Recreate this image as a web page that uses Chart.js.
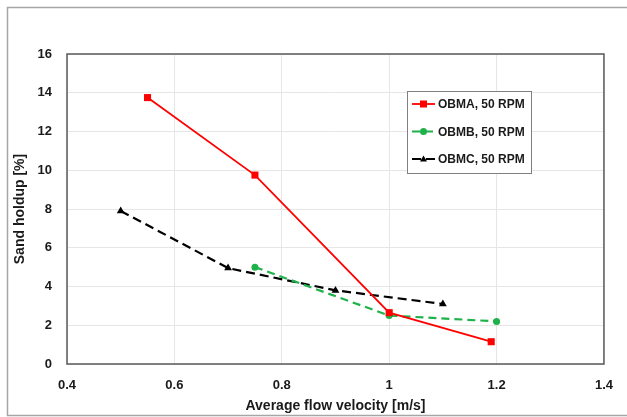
<!DOCTYPE html>
<html>
<head>
<meta charset="utf-8">
<script src="https://cdn.jsdelivr.net/npm/chart.js@4.4.1/dist/chart.umd.min.js"></script>
<style>
  html, body { margin: 0; padding: 0; background: #fff; }
  #wrap { position: relative; width: 627px; height: 417px; }
</style>
</head>
<body>
<div id="wrap"><canvas id="chart" width="627" height="417"></canvas></div>
<script>
// Sand holdup vs average flow velocity, three test series
const xTicks = [0.4, 0.6, 0.8, 1, 1.2, 1.4];
const yTicks = [0, 2, 4, 6, 8, 10, 12, 14, 16];

const obmaX = [0.55, 0.75, 1.0, 1.19];
const obmaY = [13.75, 9.75, 2.65, 1.15];

const obmbX = [0.75, 1.0, 1.2];
const obmbY = [5.0, 2.5, 2.2];

const obmcX = [0.5, 0.7, 0.9, 1.1];
const obmcY = [7.9, 4.95, 3.8, 3.1];

const seriesNames = ['OBMA, 50 RPM', 'OBMB, 50 RPM', 'OBMC, 50 RPM'];

const toPoints = (xs, ys) => xs.map((x, i) => ({ x: x, y: ys[i] }));

const tickFont = { family: 'Liberation Sans', size: 13, weight: 'bold' };
const titleFont = { family: 'Liberation Sans', size: 14, weight: 'bold' };

// frame round the whole chart + legend box inside the plot
const decorations = {
  id: 'decorations',
  afterDraw(chart) {
    const ctx = chart.ctx;
    const area = chart.chartArea;
    ctx.save();
    // outer frame (left, top, bottom only)
    ctx.strokeStyle = '#a6a6a6';
    ctx.lineWidth = 1.5;
    ctx.beginPath();
    ctx.moveTo(627, 7.5);
    ctx.lineTo(7.5, 7.5);
    ctx.lineTo(7.5, 415.5);
    ctx.lineTo(627, 415.5);
    ctx.stroke();

    // plot border
    ctx.strokeStyle = '#595959';
    ctx.lineWidth = 1.5;
    ctx.strokeRect(area.left, area.top, area.right - area.left, area.bottom - area.top);

    // legend
    const bx = 407, by = 91, bw = 124, bh = 82;
    ctx.fillStyle = '#fff';
    ctx.fillRect(bx, by, bw, bh);
    ctx.strokeStyle = '#7f7f7f';
    ctx.lineWidth = 1;
    ctx.strokeRect(bx + 0.5, by + 0.5, bw, bh);
    ctx.font = 'bold 12px "Liberation Sans"';
    ctx.textBaseline = 'middle';
    chart.data.datasets.forEach((ds, i) => {
      const y = 104 + i * 27.5;
      ctx.strokeStyle = ds.borderColor;
      ctx.lineWidth = ds.borderWidth;
      ctx.setLineDash(ds.borderDash || []);
      ctx.beginPath();
      ctx.moveTo(412, y);
      ctx.lineTo(435, y);
      ctx.stroke();
      ctx.setLineDash([]);
      ctx.fillStyle = ds.pointBackgroundColor;
      if (ds.pointStyle === 'rect') {
        ctx.fillRect(420, y - 3.5, 7, 7);
      } else if (ds.pointStyle === 'circle') {
        ctx.beginPath();
        ctx.arc(423.5, y, 3.5, 0, Math.PI * 2);
        ctx.fill();
      } else {
        ctx.beginPath();
        ctx.moveTo(423.5, y - 3.5);
        ctx.lineTo(427, y + 2.5);
        ctx.lineTo(420, y + 2.5);
        ctx.closePath();
        ctx.fill();
      }
      ctx.fillStyle = '#1a1a1a';
      ctx.textAlign = 'left';
      ctx.fillText(seriesNames[i], 438, y + 1);
    });
    ctx.restore();
  }
};

new Chart(document.getElementById('chart'), {
  type: 'scatter',
  data: {
    datasets: [
      {
        label: seriesNames[0],
        data: toPoints(obmaX, obmaY),
        showLine: true,
        borderColor: '#ff0000',
        backgroundColor: '#ff0000',
        pointBackgroundColor: '#ff0000',
        pointBorderColor: '#ff0000',
        borderWidth: 1.8,
        pointStyle: 'rect',
        pointRadius: 5,
        pointBorderWidth: 0
      },
      {
        label: seriesNames[1],
        data: toPoints(obmbX, obmbY),
        showLine: true,
        borderColor: '#1fb24a',
        backgroundColor: '#1fb24a',
        pointBackgroundColor: '#1fb24a',
        pointBorderColor: '#1fb24a',
        borderWidth: 2.2,
        borderDash: [8, 5],
        pointStyle: 'circle',
        pointRadius: 3.5,
        pointBorderWidth: 0
      },
      {
        label: seriesNames[2],
        data: toPoints(obmcX, obmcY),
        showLine: true,
        borderColor: '#000000',
        backgroundColor: '#000000',
        pointBackgroundColor: '#000000',
        pointBorderColor: '#000000',
        borderWidth: 2.2,
        borderDash: [9, 5],
        pointStyle: 'triangle',
        pointRadius: 4.5,
        pointBorderWidth: 0
      }
    ]
  },
  plugins: [decorations],
  options: {
    responsive: false,
    animation: false,
    layout: { padding: { top: 54, right: 23, left: 12, bottom: 0 } },
    plugins: {
      legend: { display: false },
      tooltip: { enabled: false }
    },
    scales: {
      x: {
        type: 'linear',
        min: 0.4,
        max: 1.4,
        afterBuildTicks: (scale) => { scale.ticks = xTicks.map(v => ({ value: v })); },
        afterFit: (scale) => { scale.height = 53; },
        grid: { color: '#e6e6e6', drawTicks: false, lineWidth: 1 },
        border: { display: false },
        ticks: {
          font: tickFont,
          color: '#1a1a1a',
          padding: 14,
          callback: (v) => String(v)
        },
        title: {
          display: true,
          text: 'Average flow velocity [m/s]',
          font: titleFont,
          color: '#1a1a1a',
          padding: { top: 2, bottom: 2 }
        }
      },
      y: {
        type: 'linear',
        min: 0,
        max: 16,
        afterBuildTicks: (scale) => { scale.ticks = yTicks.map(v => ({ value: v })); },
        afterFit: (scale) => { scale.width = 55; },
        grid: { color: '#e6e6e6', drawTicks: false, lineWidth: 1 },
        border: { display: false },
        ticks: {
          font: tickFont,
          color: '#1a1a1a',
          padding: 15
        },
        title: {
          display: true,
          text: 'Sand holdup [%]',
          font: titleFont,
          color: '#1a1a1a',
          padding: { top: 0, bottom: 0 }
        }
      }
    }
  }
});
</script>
</body>
</html>
